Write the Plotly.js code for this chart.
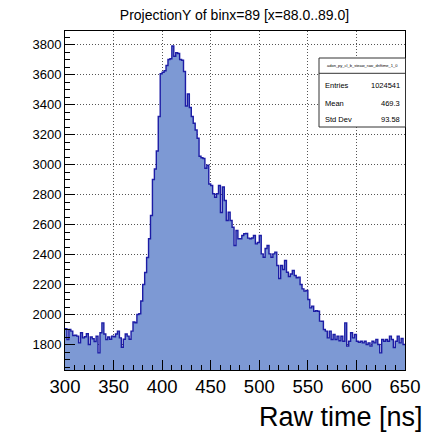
<!DOCTYPE html>
<html>
<head>
<meta charset="utf-8">
<script src="https://cdn.plot.ly/plotly-3.0.1.min.js"></script>
<style>
html,body{margin:0;padding:0;background:#fff;}
#chart{width:436px;height:434px;}
</style>
</head>
<body>
<div id="chart"></div>
<script>
// Histogram: ProjectionY of binx=89, 2 ns bins from 300 to 650 ns
var binLow = 300;
var binWidth = 2;
var counts = [
  1905,1833,1900,1889,1860,1862,1856,1811,1878,1844,
  1852,1872,1800,1850,1838,1820,1855,1744,1878,1944,
  1870,1833,1850,1835,1856,1852,1870,1889,1844,1782,
  1835,1870,1856,1835,1889,
  1950,1945,2000,2005,2090,2200,2280,2380,2505,2660,
  2900,2970,3090,3320,3605,
  3615,3625,3660,3700,3705,3790,3722,3745,3740,3700,
  3695,3620,3390,3470,3380,3320,3275,3230,3175,3055,
  3045,3040,2975,2995,2870,
  2860,2805,2782,2805,2860,2680,2850,2760,2627,2682,
  2627,2582,2460,2560,2505,2505,2527,2538,2540,2509,
  2505,2510,2527,2471,2480,
  2527,2404,2382,2440,2460,2404,2382,2404,2416,2327,
  2240,2327,2300,2360,2282,2253,2270,2293,2260,2245,
  2249,2200,2171,2156,2160,
  2100,2044,2056,2022,2025,2022,1956,1955,1900,1889,
  1844,1889,
  1833,1867,1833,1856,1825,1855,1822,1944,1789,1822,
  1878,1844,1867,1822,1815,1822,1811,1822,1800,1811,
  1789,1822,1811,1833,1800,1744,1833,1822,1833,1822,
  1856,1833,1780,1822,1856,1811,1840,1800
];
var xTickVals = [300,350,400,450,500,550,600,650];
var yTickVals = [1800,2000,2200,2400,2600,2800,3000,3200,3400,3600,3800];
var statNames = ["Entries","Mean","Std Dev"];
var statValues = ["1024541","469.3","93.58"];
var histName = "adon_py_cl_b_steaw_raw_driftime_1_0";
var chartTitle = "ProjectionY of binx=89 [x=88.0..89.0]";
var xTitle = "Raw time [ns]";

// build step outline from bin edges
var xs = [], ys = [];
for (var i = 0; i < counts.length; i++) {
  xs.push(binLow + i * binWidth);
  ys.push(counts[i]);
}
xs.push(binLow + counts.length * binWidth);
ys.push(counts[counts.length - 1]);

var FONT = "Liberation Sans, Arial, Helvetica, sans-serif";

var trace = {
  type: "scatter",
  mode: "lines",
  x: xs,
  y: ys,
  line: {shape: "hv", color: "rgb(28,28,165)", width: 1.4},
  fill: "tozeroy",
  fillcolor: "rgb(125,153,212)",
  hoverinfo: "skip"
};

// frame geometry in pixels
var L = 65, R = 405, T = 31, B = 370;
function px(x){ return (x - L) / (R - L); }
function py(y){ return (B - y) / (B - T); }

var annotations = [
  {text: xTitle, xref: "paper", yref: "paper", x: px(425), y: py(417), xanchor: "right", yanchor: "middle",
   showarrow: false, font: {family: FONT, size: 27, color: "#000"}},
  {text: histName, xref: "paper", yref: "paper", x: px(362.5), y: py(65.5), xanchor: "center", yanchor: "middle",
   showarrow: false, font: {family: FONT, size: 4, color: "#000"}}
];
var rowY = [85, 103, 119];
for (var k = 0; k < statNames.length; k++) {
  annotations.push({text: statNames[k], xref: "paper", yref: "paper", x: px(323), y: py(rowY[k]),
    xanchor: "left", yanchor: "middle", showarrow: false, font: {family: FONT, size: 7.5, color: "#000"}});
  annotations.push({text: statValues[k], xref: "paper", yref: "paper", x: px(402), y: py(rowY[k]),
    xanchor: "right", yanchor: "middle", showarrow: false, font: {family: FONT, size: 7.5, color: "#000"}});
}

var layout = {
  width: 436, height: 434,
  margin: {l: L, r: 436 - R, t: T, b: 434 - B, pad: 0},
  paper_bgcolor: "#fff", plot_bgcolor: "#fff",
  showlegend: false,
  title: {text: chartTitle, x: 234.5 / 436, xanchor: "center", xref: "container", y: 1 - 15 / 434, yanchor: "middle", yref: "container",
          font: {family: FONT, size: 14, color: "#000"}},
  xaxis: {
    range: [300, 650], tickmode: "array", tickvals: xTickVals, ticktext: xTickVals.map(String),
    ticks: "inside", ticklen: 10, tickwidth: 1, tickcolor: "#000",
    showline: true, linecolor: "#000", linewidth: 1, mirror: true,
    showgrid: true, gridcolor: "#555", griddash: "1px,2px", gridwidth: 1,
    zeroline: false,
    tickfont: {family: FONT, size: 18.5, color: "#000"},
    minor: {dtick: 10, tick0: 300, ticks: "inside", ticklen: 5, tickcolor: "#000", showgrid: false}
  },
  yaxis: {
    range: [1630, 3890], tickmode: "array", tickvals: yTickVals, ticktext: yTickVals.map(String),
    ticks: "inside", ticklen: 10, tickwidth: 1, tickcolor: "#000",
    showline: true, linecolor: "#000", linewidth: 1, mirror: true,
    showgrid: true, gridcolor: "#555", griddash: "1px,2px", gridwidth: 1,
    zeroline: false,
    tickfont: {family: FONT, size: 13, color: "#000"},
    minor: {dtick: 50, tick0: 1800, ticks: "inside", ticklen: 5, tickcolor: "#000", showgrid: false}
  },
  shapes: [
    {type: "rect", xref: "paper", yref: "paper", x0: px(319), x1: px(405.5), y0: py(127), y1: py(58),
     line: {color: "#333", width: 1}, fillcolor: "#fff", layer: "above"},
    {type: "line", xref: "paper", yref: "paper", x0: px(319), x1: px(405.5), y0: py(73.3), y1: py(73.3),
     line: {color: "#333", width: 1}, layer: "above"}
  ],
  annotations: annotations
};

Plotly.newPlot("chart", [trace], layout, {staticPlot: true, displayModeBar: false});
</script>
</body>
</html>
